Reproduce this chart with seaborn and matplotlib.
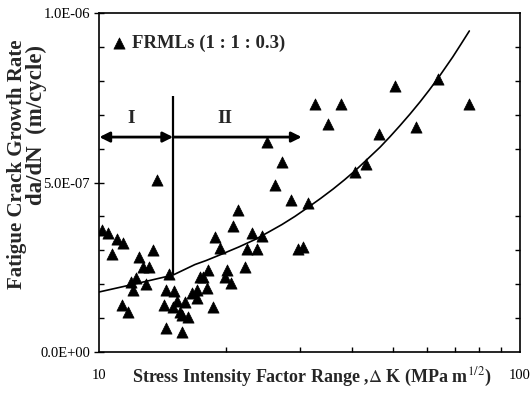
import numpy as np
import pandas as pd
import matplotlib
matplotlib.use("Agg")
import matplotlib.pyplot as plt
from matplotlib.ticker import FuncFormatter, FixedLocator, NullFormatter
import seaborn as sns

# ---- data ----
dk = [10.17, 10.50, 11.03, 11.40, 10.74, 12.45, 13.44, 12.72, 13.15, 13.73,
      12.24, 11.91, 12.04, 12.93, 11.34, 11.72, 14.66, 14.43, 15.07, 14.27,
      14.99, 15.32, 16.01, 15.57, 16.27, 14.43, 15.74, 16.63, 17.09, 17.38,
      17.66, 18.15, 18.05, 18.65, 18.86, 19.38, 20.81, 21.39, 20.14, 19.92,
      20.58, 22.23, 22.47, 23.09, 23.73, 24.39, 26.19, 28.58, 31.37, 29.70,
      30.52, 25.06, 27.21, 32.59, 37.56, 34.99, 46.26, 43.06, 40.56, 50.49,
      56.62, 63.88, 75.65, 17.09, 15.74]
rate_e7 = [3.60, 3.51, 3.33, 3.22, 2.89, 2.80, 3.01, 2.51, 2.51, 5.07,
           2.18, 2.06, 1.83, 2.01, 1.39, 1.18, 2.30, 1.83, 1.80, 1.39,
           1.33, 1.50, 1.47, 1.18, 1.03, 0.71, 0.59, 1.74, 1.83, 2.21,
           2.21, 2.42, 1.89, 1.33, 3.39, 3.07, 3.72, 4.19, 2.42, 2.21,
           2.04, 2.51, 3.04, 3.51, 3.04, 3.42, 4.93, 4.48, 4.40, 3.04,
           3.10, 6.19, 5.60, 7.32, 7.32, 6.73, 6.43, 5.55, 5.31, 7.85,
           6.64, 8.05, 7.32, 1.59, 1.09]

curve_dk = [10.0, 12.0, 14.99, 16.9, 17.98, 19.6, 21.5, 23.5, 25.3, 27.2,
            29.2, 31.4, 33.6, 36.0, 38.3, 40.6, 43.5, 46.5, 49.1, 51.8,
            54.8, 57.9, 60.9, 63.9, 66.5, 69.2, 72.4, 75.8]
curve_rate_e7 = [1.77, 1.99, 2.27, 2.58, 2.70, 2.89, 3.10, 3.32, 3.54, 3.76,
                 4.00, 4.27, 4.53, 4.81, 5.08, 5.35, 5.70, 6.04, 6.35, 6.67,
                 7.02, 7.38, 7.73, 8.08, 8.39, 8.70, 9.08, 9.47]

series_label = "FRMLs (1 : 1 : 0.3)"
ylabel_line1 = "Fatigue Crack Growth Rate"
ylabel_line2 = "da/dN  (m/cycle)"
xlabel_text = "Stress Intensity Factor Range ,$\\Delta$ K (MPa m$^{1/2}$)"
boundary_dk = 15.0
boundary_bottom_e7 = 2.30
boundary_top_e7 = 7.55
arrow_y_e7 = 6.34
region_ii_end = 30.3
region_labels = ["I", "II"]
region_label_x = [11.9, 19.9]
region_label_y_e7 = 6.9
x_tick_labels = ["10", "100"]
x_major = [10, 100]
x_minor = [20, 30, 40, 50, 60, 70, 80, 90]
y_major = [0.0, 5e-7, 1e-6]

pts = pd.DataFrame({"dk": dk, "rate": np.array(rate_e7) * 1e-7})
curve = pd.DataFrame({"dk": curve_dk, "rate": np.array(curve_rate_e7) * 1e-7})

sns.set_theme(style="ticks")
plt.rcParams["font.family"] = ["Liberation Serif", "DejaVu Serif"]
plt.rcParams["mathtext.fontset"] = "stix"

fig = plt.figure(figsize=(5.32, 3.98), dpi=100)
ax = fig.add_axes([99 / 532, 1 - 352 / 398, 421 / 532, 339 / 398])

sns.lineplot(data=curve, x="dk", y="rate", ax=ax, color="black", lw=1.2,
             sort=False, legend=False)
sns.scatterplot(data=pts, x="dk", y="rate", ax=ax, marker="^", s=65,
                color="black", edgecolor="black", linewidth=0.5,
                label=series_label, zorder=3)

ax.set_xscale("log")
ax.set_xlim(10, 100)
ax.set_ylim(0, 1e-6)

# region boundary and arrows
ax.vlines(boundary_dk, boundary_bottom_e7 * 1e-7, boundary_top_e7 * 1e-7,
          color="black", lw=1.6)
ay = arrow_y_e7 * 1e-7
ax.annotate("", xy=(10.02, ay), xytext=(boundary_dk, ay),
            arrowprops=dict(arrowstyle="<|-|>", color="black", lw=2.0,
                            mutation_scale=15, shrinkA=0, shrinkB=0))
ax.annotate("", xy=(boundary_dk, ay), xytext=(region_ii_end, ay),
            arrowprops=dict(arrowstyle="<|-", color="black", lw=2.0,
                            mutation_scale=15, shrinkA=0, shrinkB=0))
for lab, lx in zip(region_labels, region_label_x):
    ax.text(lx, region_label_y_e7 * 1e-7, lab, ha="center", va="center",
            fontsize=14, fontweight="bold")

# axes styling
for sp in ax.spines.values():
    sp.set_color("black")
    sp.set_linewidth(1.2)
ax.xaxis.set_major_locator(FixedLocator(x_major))
ax.xaxis.set_minor_locator(FixedLocator(x_minor))
ax.set_xticklabels(x_tick_labels)
ax.xaxis.set_minor_formatter(NullFormatter())
ax.tick_params(axis="x", which="major", direction="in", length=0, pad=12,
               labelsize=10.5, colors="black")
ax.tick_params(axis="x", which="minor", direction="in", length=3.5, width=1,
               colors="black")
ax.yaxis.set_major_locator(FixedLocator(y_major))
ax.yaxis.set_minor_locator(FixedLocator([i * 1e-7 for i in range(1, 10)]))
ax.yaxis.set_major_formatter(FuncFormatter(lambda v, p: f"{v:.1E}"))
ax.tick_params(axis="y", which="major", direction="inout", length=7, width=1,
               pad=3, labelsize=10.5, colors="black")
ax.tick_params(axis="y", which="minor", direction="in", length=3.5, width=1,
               right=True, colors="black")
ax.yaxis.get_offset_text().set_visible(False)

ax.set_xlabel(xlabel_text, fontsize=13, fontweight="bold")
ax.xaxis.set_label_coords(0.506, -0.042)
ax.set_ylabel(ylabel_line1, fontsize=15, fontweight="bold")
ax.yaxis.set_label_coords(-0.171, 0.555)
fig.text(36 / 532, 1 - 45 / 398, ylabel_line2, rotation=90, ha="center",
         va="top", fontsize=16.5, fontweight="bold")

leg = ax.legend(loc="upper left", bbox_to_anchor=(0.012, 0.959), frameon=False,
                handlelength=0.8, handletextpad=0.3, borderaxespad=0,
                prop={"family": "Liberation Serif", "weight": "bold", "size": 13.5})

fig.savefig("out.png", dpi=100)
